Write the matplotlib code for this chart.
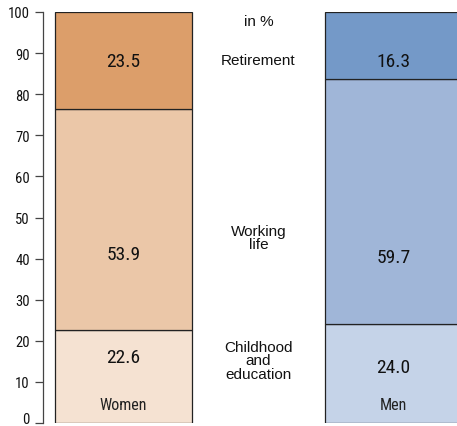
import matplotlib
matplotlib.use("Agg")
import matplotlib.pyplot as plt
from matplotlib import font_manager
from matplotlib.transforms import ScaledTranslation

groups = ["Women", "Men"]
stages = ["Childhood\nand\neducation", "Working\nlife", "Retirement"]
women = [22.6, 53.9, 23.5]
men = [24.0, 59.7, 16.3]
unit_label = "in %"
yticks = [0, 10, 20, 30, 40, 50, 60, 70, 80, 90, 100]

women_colors = ["#F5E2D2", "#EBC7A8", "#DC9E6A"]
men_colors = ["#C5D3E8", "#A0B6D8", "#7499C8"]

names = {f.name for f in font_manager.fontManager.ttflist}
narrow = "Liberation Sans"
for cand in ["Liberation Sans Narrow", "Roboto Condensed", "Open Sans Condensed", "Noto Sans Condensed"]:
    if cand in names:
        narrow = cand
        break
regular = "Liberation Sans"
cond = narrow != "Liberation Sans"

fig = plt.figure(figsize=(4.57, 4.27), dpi=100)
ax = fig.add_axes([43 / 457, 1 - 424 / 427, 414 / 457, 411 / 427])
ax.set_ylim(0, 100)
ax.set_xlim(-0.596, 2.47)

xpos = [0, 2]
width = 1.015
for x, vals, cols in zip(xpos, [women, men], [women_colors, men_colors]):
    bottom = 0
    for v, c in zip(vals, cols):
        ax.bar(x, v, bottom=bottom, width=width, color=c, edgecolor="#222222", linewidth=0.9)
        bottom += v

# value labels
women_label_y = [16.0, 41.0, 88.0]
men_label_y = [13.6, 40.3, 88.0]
num_size = 14 if cond else 12
for x, vals, ys in zip(xpos, [women, men], [women_label_y, men_label_y]):
    for v, y in zip(vals, ys):
        ax.text(x, y, f"{v:.1f}", ha="center", va="center", fontsize=num_size, family=narrow, color="#111111")

for x, g in zip(xpos, groups):
    ax.text(x, 4.4, g, ha="center", va="center", fontsize=11.5 if cond else 10, family=narrow, color="#222222")

stage_y = [15.3, 45.2, 88.2]
for s, y in zip(stages, stage_y):
    ax.text(1, y, s, ha="center", va="center", fontsize=11, family=regular, color="#111111",
            linespacing=0.95)
ax.text(1, 97.7, unit_label, ha="center", va="center", fontsize=11, family=regular, color="#111111")

for side in ["top", "right", "bottom"]:
    ax.spines[side].set_visible(False)
ax.spines["left"].set_color("#444444")
ax.spines["left"].set_linewidth(0.9)
ax.set_xticks([])
ax.set_yticks(yticks)
ax.tick_params(axis="y", length=6, width=0.9, color="#444444", pad=3.5)
fig.canvas.draw()
labels = ax.get_yticklabels()
for lbl in labels:
    lbl.set_fontfamily(narrow)
    lbl.set_fontsize(10.5 if cond else 9.5)
    lbl.set_color("#111111")
labels[0].set_transform(labels[0].get_transform() + ScaledTranslation(0, 4 / 72, fig.dpi_scale_trans))

fig.savefig("out.png", dpi=100)
